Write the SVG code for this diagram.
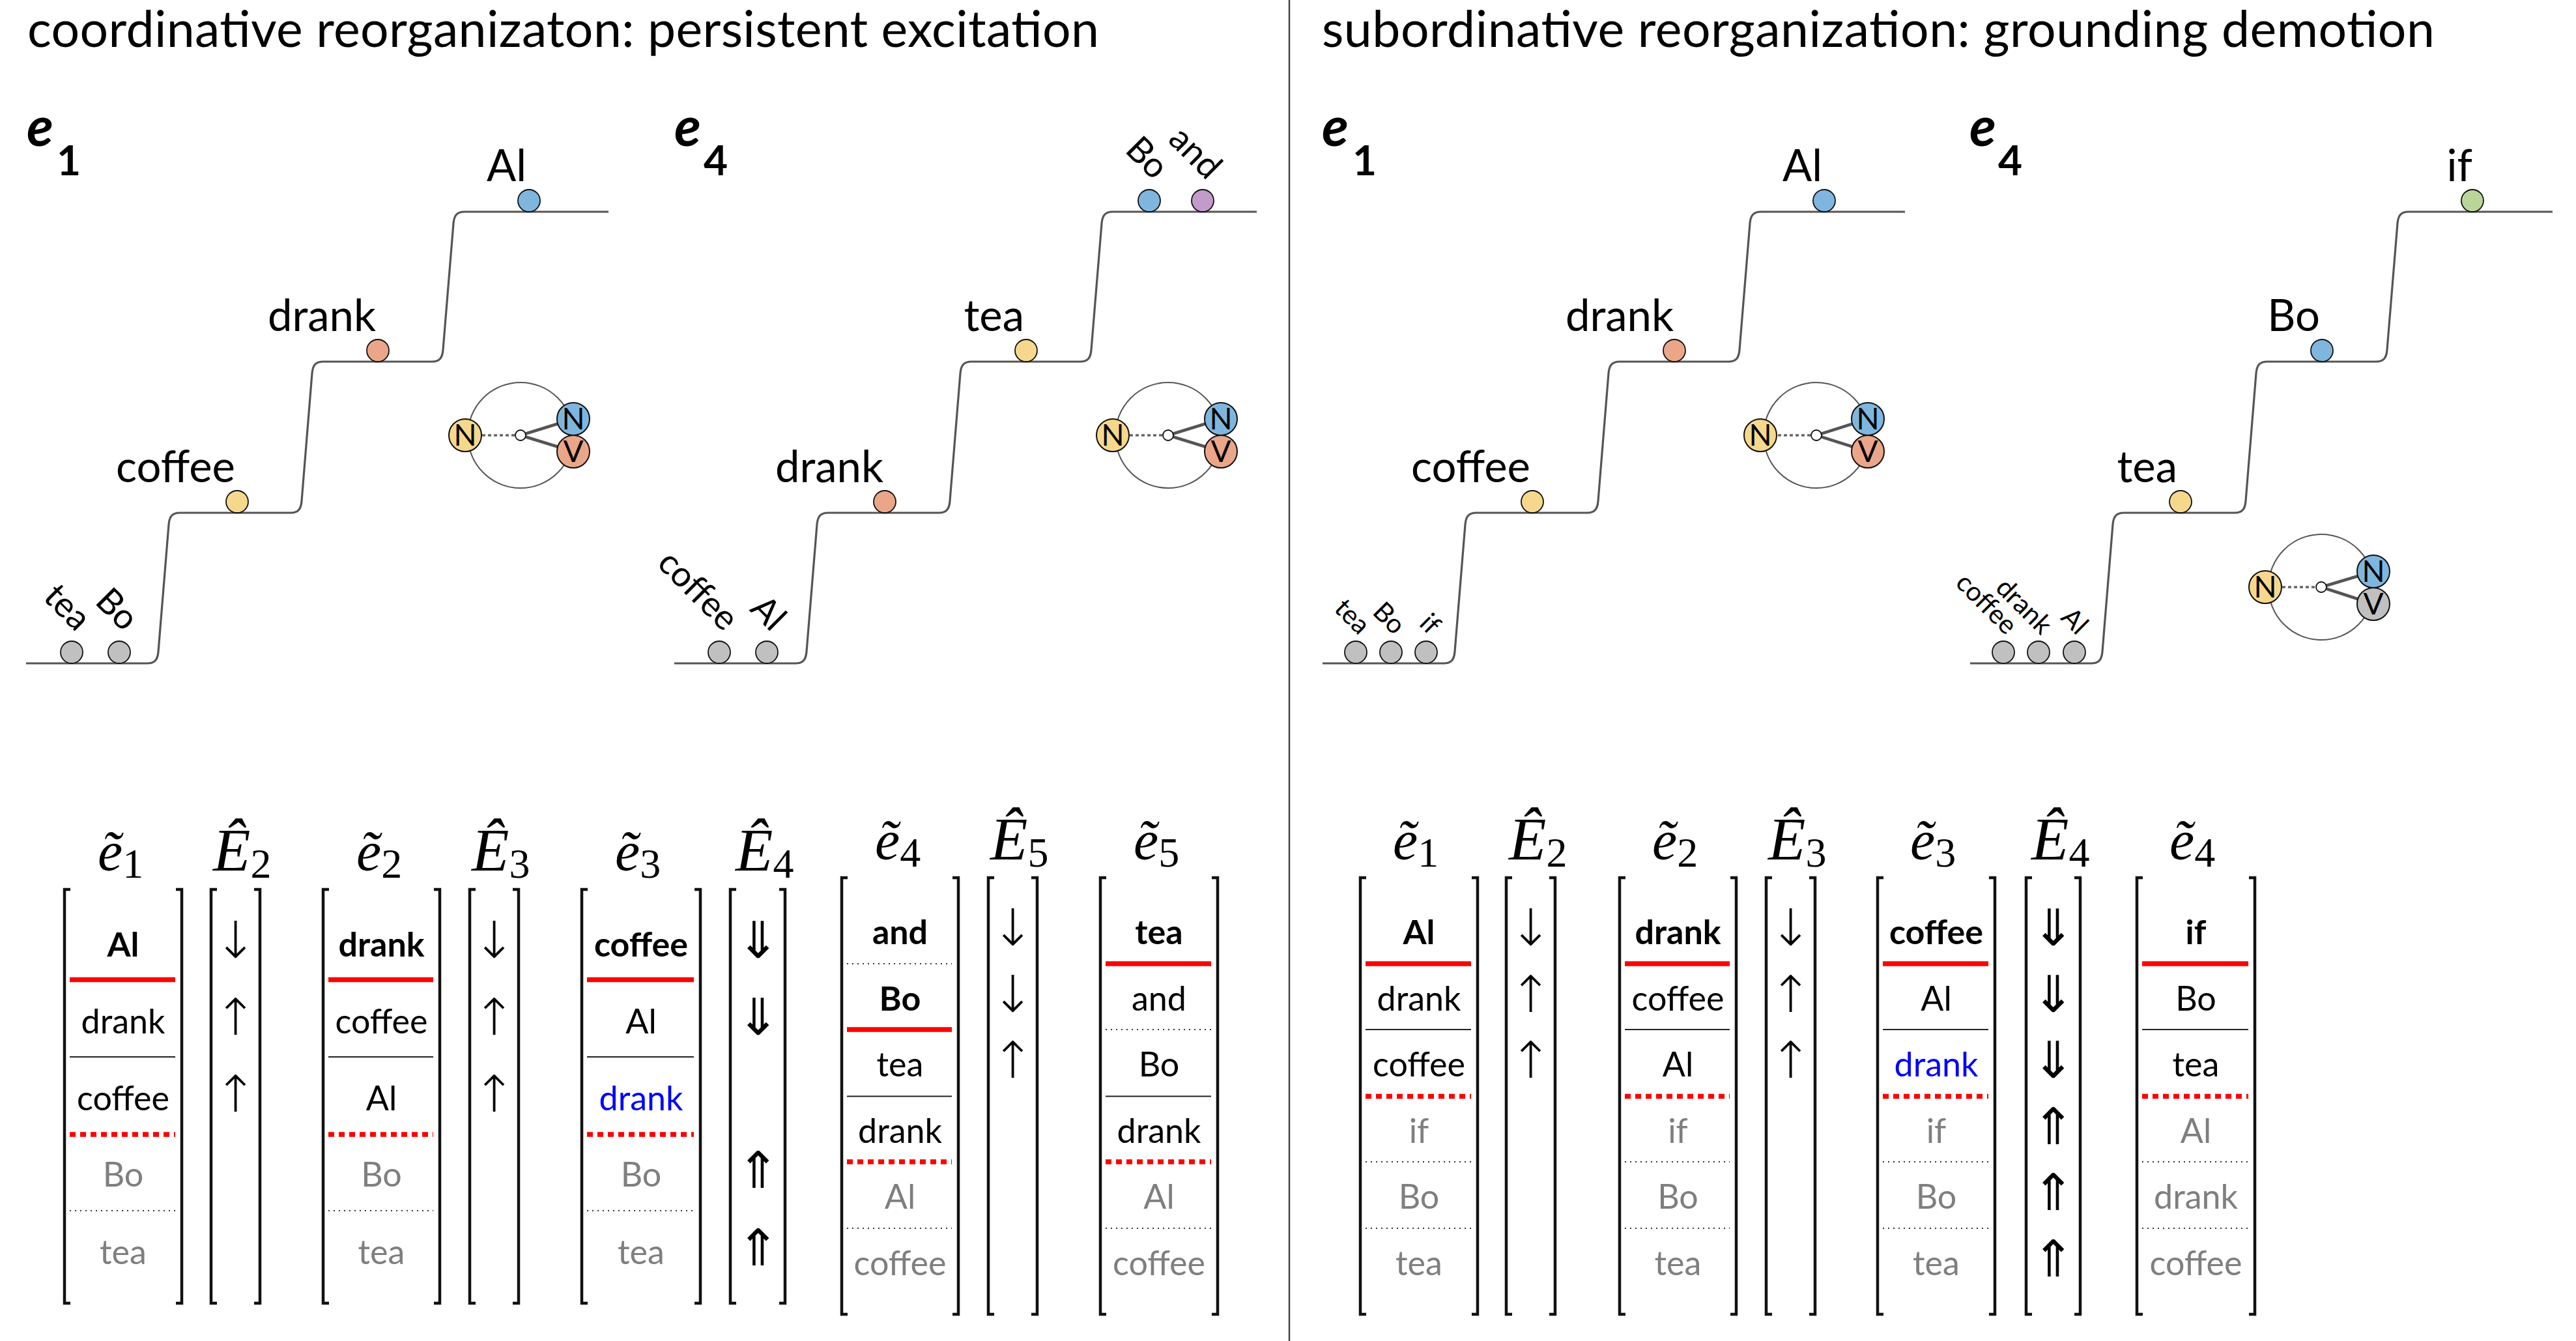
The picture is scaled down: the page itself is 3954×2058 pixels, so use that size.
<svg xmlns="http://www.w3.org/2000/svg" width="3954" height="2058" viewBox="0 0 3954 2058">
<style>
text{font-family:Lato,'Open Sans','Liberation Sans',sans-serif;fill:#000}
.title{font-size:77px}
.pe{font-size:84px;font-weight:bold;font-style:italic}
.ps{font-size:64px;font-weight:bold;font-style:normal}
.lbl{font-size:67px;text-anchor:end}
.rl{font-size:54px;text-anchor:end}
.rs{font-size:41px;text-anchor:end}
.nv{font-size:46px;text-anchor:middle}
.stair{fill:none;stroke:#555;stroke-width:3.2}
.ball{stroke:#111;stroke-width:1.8}
.gray{fill:#c0c0c0}.yel{fill:#f6d88d}.sal{fill:#eba689}.blu{fill:#7fb6de}.pur{fill:#c39bcb}.grn{fill:#b9d598}
.ring{fill:none;stroke:#555;stroke-width:2}
.dot{stroke:#666;stroke-width:3.5;stroke-dasharray:5 4}
.link{stroke:#555;stroke-width:4.5}
.hub{fill:#fff;stroke:#111;stroke-width:1.8}
.nd{stroke:#111;stroke-width:2}
.math{font-family:'Liberation Serif','DejaVu Serif',serif;font-style:italic}
.me{font-size:86px}
.mE{font-size:94px}
.sub{font-size:64px;font-style:normal}
.br{fill:none;stroke:#111;stroke-width:4.5}
.cell{font-size:52px;text-anchor:middle}
.b{font-weight:bold}
.g{fill:#7f7f7f}
.bl{fill:#0000ff}
.arr{font-family:'DejaVu Sans',sans-serif;font-weight:200;font-size:78px;text-anchor:middle}
.sr{stroke:#f00;stroke-width:7.5}
.srd{stroke:#f00;stroke-width:7.5;stroke-dasharray:9 7}
.sb{stroke:#222;stroke-width:2}
.sg{stroke:#333;stroke-width:2;stroke-dasharray:2 6}
.div{stroke:#444;stroke-width:2.5}
</style>
<defs>
<path id="stair" class="stair" d="M40,1018 H226 C238,1018 242,1012 243,1000 L259,805 C260,793 264,787 276,787 H446 C458,787 462,781 463,769 L479,573 C480,561 484,555 496,555 H663 C675,555 679,549 680,537 L696,343 C697,331 701,325 713,325 H934"/>
</defs>
<rect width="3954" height="2058" fill="#fff"/>

<g id="titles">
<text class="title" x="42" y="72" textLength="1645">coordinative reorganizaton: persistent excitation</text>
<text class="title" x="2029" y="72" textLength="1708">subordinative reorganization: grounding demotion</text>
</g>
<line id="divider" class="div" x1="1979" y1="0" x2="1979" y2="2058"/>

<!-- Left e1 panel -->
<g id="panel-left-e1">
<text class="pe" x="41" y="224">e</text><text class="ps" x="87" y="269">1</text>
<use href="#stair"/>
<circle class="ball gray" cx="110" cy="1001" r="17"/>
<circle class="ball gray" cx="183" cy="1001" r="17"/>
<circle class="ball yel" cx="364" cy="770" r="17"/>
<circle class="ball sal" cx="580" cy="538" r="17"/>
<circle class="ball blu" cx="812" cy="308" r="17"/>
<text class="lbl" x="361" y="740">coffee</text>
<text class="lbl" x="577" y="508">drank</text>
<text class="lbl" x="808" y="278">Al</text>
<text class="rl" x="117" y="971" transform="rotate(45 117 971)">tea</text>
<text class="rl" x="190" y="971" transform="rotate(45 190 971)">Bo</text>
<g id="schema-left-e1">
<circle class="ring" cx="799" cy="668" r="81"/>
<line class="dot" x1="740" y1="668" x2="791" y2="668"/>
<line class="link" x1="799" y1="668" x2="880" y2="643"/>
<line class="link" x1="799" y1="668" x2="880" y2="693"/>
<circle class="hub" cx="799" cy="668" r="8"/>
<circle class="nd yel" cx="714" cy="668" r="25"/>
<circle class="nd blu" cx="880" cy="643" r="25"/>
<circle class="nd sal" cx="880" cy="693" r="25"/>
<text class="nv" x="714" y="684">N</text>
<text class="nv" x="880" y="659">N</text>
<text class="nv" x="880" y="709">V</text>
</g>
</g>

<!-- Left e4 panel -->
<g id="panel-left-e4">
<text class="pe" x="1035" y="224">e</text><text class="ps" x="1080" y="269">4</text>
<use href="#stair" x="995"/>
<circle class="ball gray" cx="1104" cy="1001" r="17"/>
<circle class="ball gray" cx="1177" cy="1001" r="17"/>
<circle class="ball sal" cx="1358" cy="770" r="17"/>
<circle class="ball yel" cx="1575" cy="538" r="17"/>
<circle class="ball blu" cx="1764" cy="308" r="17"/>
<circle class="ball pur" cx="1846" cy="308" r="17"/>
<text class="lbl" x="1356" y="740">drank</text>
<text class="lbl" x="1572" y="508">tea</text>
<text class="rl" x="1111" y="971" transform="rotate(45 1111 971)">coffee</text>
<text class="rl" x="1184" y="971" transform="rotate(45 1184 971)">Al</text>
<text class="rl" x="1771" y="278" transform="rotate(45 1771 278)">Bo</text>
<text class="rl" x="1853" y="278" transform="rotate(45 1853 278)">and</text>
<g id="schema-left-e4">
<circle class="ring" cx="1793" cy="668" r="81"/>
<line class="dot" x1="1734" y1="668" x2="1785" y2="668"/>
<line class="link" x1="1793" y1="668" x2="1874" y2="643"/>
<line class="link" x1="1793" y1="668" x2="1874" y2="693"/>
<circle class="hub" cx="1793" cy="668" r="8"/>
<circle class="nd yel" cx="1708" cy="668" r="25"/>
<circle class="nd blu" cx="1874" cy="643" r="25"/>
<circle class="nd sal" cx="1874" cy="693" r="25"/>
<text class="nv" x="1708" y="684">N</text>
<text class="nv" x="1874" y="659">N</text>
<text class="nv" x="1874" y="709">V</text>
</g>
</g>

<!-- Right e1 panel -->
<g id="panel-right-e1">
<text class="pe" x="2029" y="224">e</text><text class="ps" x="2076" y="269">1</text>
<use href="#stair" x="1990"/>
<circle class="ball gray" cx="2081" cy="1001" r="17"/>
<circle class="ball gray" cx="2135" cy="1001" r="17"/>
<circle class="ball gray" cx="2189" cy="1001" r="17"/>
<circle class="ball yel" cx="2352" cy="770" r="17"/>
<circle class="ball sal" cx="2570" cy="538" r="17"/>
<circle class="ball blu" cx="2800" cy="308" r="17"/>
<text class="lbl" x="2349" y="740">coffee</text>
<text class="lbl" x="2569" y="508">drank</text>
<text class="lbl" x="2797" y="278">Al</text>
<text class="rs" x="2086" y="976" transform="rotate(45 2086 976)">tea</text>
<text class="rs" x="2140" y="976" transform="rotate(45 2140 976)">Bo</text>
<text class="rs" x="2194" y="976" transform="rotate(45 2194 976)">if</text>
<g id="schema-right-e1">
<circle class="ring" cx="2788" cy="668" r="81"/>
<line class="dot" x1="2729" y1="668" x2="2780" y2="668"/>
<line class="link" x1="2788" y1="668" x2="2867" y2="643"/>
<line class="link" x1="2788" y1="668" x2="2867" y2="693"/>
<circle class="hub" cx="2788" cy="668" r="8"/>
<circle class="nd yel" cx="2702" cy="668" r="25"/>
<circle class="nd blu" cx="2867" cy="643" r="25"/>
<circle class="nd sal" cx="2867" cy="693" r="25"/>
<text class="nv" x="2702" y="684">N</text>
<text class="nv" x="2867" y="659">N</text>
<text class="nv" x="2867" y="709">V</text>
</g>
</g>

<!-- Right e4 panel -->
<g id="panel-right-e4">
<text class="pe" x="3023" y="224">e</text><text class="ps" x="3067" y="269">4</text>
<use href="#stair" x="2984"/>
<circle class="ball gray" cx="3075" cy="1001" r="17"/>
<circle class="ball gray" cx="3129" cy="1001" r="17"/>
<circle class="ball gray" cx="3184" cy="1001" r="17"/>
<circle class="ball yel" cx="3347" cy="770" r="17"/>
<circle class="ball blu" cx="3564" cy="538" r="17"/>
<circle class="ball grn" cx="3795" cy="308" r="17"/>
<text class="lbl" x="3342" y="740">tea</text>
<text class="lbl" x="3561" y="508">Bo</text>
<text class="lbl" x="3795" y="278">if</text>
<text class="rs" x="3079" y="976" transform="rotate(45 3079 976)">coffee</text>
<text class="rs" x="3133" y="976" transform="rotate(45 3133 976)">drank</text>
<text class="rs" x="3188" y="976" transform="rotate(45 3188 976)">Al</text>
<g id="schema-right-e4">
<circle class="ring" cx="3563" cy="901" r="81"/>
<line class="dot" x1="3503" y1="901" x2="3555" y2="901"/>
<line class="link" x1="3563" y1="901" x2="3643" y2="877"/>
<line class="link" x1="3563" y1="901" x2="3643" y2="927"/>
<circle class="hub" cx="3563" cy="901" r="8"/>
<circle class="nd yel" cx="3477" cy="901" r="25"/>
<circle class="nd blu" cx="3643" cy="877" r="25"/>
<circle class="nd gray" cx="3643" cy="927" r="25"/>
<text class="nv" x="3477" y="917">N</text>
<text class="nv" x="3643" y="893">N</text>
<text class="nv" x="3643" y="943">V</text>
</g>
</g>

<!-- ===== Left tables (5 rows) ===== -->
<g id="tab-left-e1">
<text class="math me" x="150" y="1336">ẽ<tspan class="sub" dy="11">1</tspan></text>
<path class="br" d="M108,1365H99V2000H108M270,1365H279V2000H270"/>
<text class="cell b" x="189" y="1468">Al</text>
<text class="cell" x="189" y="1586">drank</text>
<text class="cell" x="189" y="1704">coffee</text>
<text class="cell g" x="189" y="1821">Bo</text>
<text class="cell g" x="189" y="1940">tea</text>
<line class="sr" x1="107" y1="1503.5" x2="269" y2="1503.5"/>
<line class="sb" x1="107" y1="1622" x2="269" y2="1622"/>
<line class="srd" x1="107" y1="1741" x2="269" y2="1741"/>
<line class="sg" x1="107" y1="1858" x2="269" y2="1858"/>
</g>
<g id="tab-left-E2">
<text class="math mE" x="327" y="1336">Ê<tspan class="sub" dy="11">2</tspan></text>
<path class="br" d="M333,1365H324V2000H333M390,1365H399V2000H390"/>
<text class="arr" x="361.5" y="1470">↓</text>
<text class="arr" x="361.5" y="1588">↑</text>
<text class="arr" x="361.5" y="1706">↑</text>
</g>
<g id="tab-left-e2">
<text class="math me" x="547" y="1336">ẽ<tspan class="sub" dy="11">2</tspan></text>
<path class="br" d="M505,1365H496V2000H505M666,1365H675V2000H666"/>
<text class="cell b" x="585.5" y="1468">drank</text>
<text class="cell" x="585.5" y="1586">coffee</text>
<text class="cell" x="585.5" y="1704">Al</text>
<text class="cell g" x="585.5" y="1821">Bo</text>
<text class="cell g" x="585.5" y="1940">tea</text>
<line class="sr" x1="504" y1="1503.5" x2="665" y2="1503.5"/>
<line class="sb" x1="504" y1="1622" x2="665" y2="1622"/>
<line class="srd" x1="504" y1="1741" x2="665" y2="1741"/>
<line class="sg" x1="504" y1="1858" x2="665" y2="1858"/>
</g>
<g id="tab-left-E3">
<text class="math mE" x="724" y="1336">Ê<tspan class="sub" dy="11">3</tspan></text>
<path class="br" d="M730,1365H721V2000H730M787,1365H796V2000H787"/>
<text class="arr" x="758.5" y="1470">↓</text>
<text class="arr" x="758.5" y="1588">↑</text>
<text class="arr" x="758.5" y="1706">↑</text>
</g>
<g id="tab-left-e3">
<text class="math me" x="944" y="1336">ẽ<tspan class="sub" dy="11">3</tspan></text>
<path class="br" d="M902,1365H893V2000H902M1066,1365H1075V2000H1066"/>
<text class="cell b" x="984" y="1468">coffee</text>
<text class="cell" x="984" y="1586">Al</text>
<text class="cell bl" x="984" y="1704">drank</text>
<text class="cell g" x="984" y="1821">Bo</text>
<text class="cell g" x="984" y="1940">tea</text>
<line class="sr" x1="901" y1="1503.5" x2="1065" y2="1503.5"/>
<line class="sb" x1="901" y1="1622" x2="1065" y2="1622"/>
<line class="srd" x1="901" y1="1741" x2="1065" y2="1741"/>
<line class="sg" x1="901" y1="1858" x2="1065" y2="1858"/>
</g>
<g id="tab-left-E4">
<text class="math mE" x="1129" y="1336">Ê<tspan class="sub" dy="11">4</tspan></text>
<path class="br" d="M1130,1365H1121V2000H1130M1196,1365H1205V2000H1196"/>
<text class="arr" x="1163" y="1470">⇓</text>
<text class="arr" x="1163" y="1588">⇓</text>
<text class="arr" x="1163" y="1823">⇑</text>
<text class="arr" x="1163" y="1942">⇑</text>
</g>
<!-- Left tables (6 rows) -->
<g id="tab-left-e4">
<text class="math me" x="1343" y="1319">ẽ<tspan class="sub" dy="11">4</tspan></text>
<path class="br" d="M1301,1347H1292V2017H1301M1462,1347H1471V2017H1462"/>
<text class="cell b" x="1381.5" y="1449">and</text>
<text class="cell b" x="1381.5" y="1550.5">Bo</text>
<text class="cell" x="1381.5" y="1652">tea</text>
<text class="cell" x="1381.5" y="1754">drank</text>
<text class="cell g" x="1381.5" y="1855">Al</text>
<text class="cell g" x="1381.5" y="1957">coffee</text>
<line class="sg" x1="1300" y1="1479" x2="1461" y2="1479"/>
<line class="sr" x1="1300" y1="1580" x2="1461" y2="1580"/>
<line class="sb" x1="1300" y1="1682.5" x2="1461" y2="1682.5"/>
<line class="srd" x1="1300" y1="1783" x2="1461" y2="1783"/>
<line class="sg" x1="1300" y1="1885" x2="1461" y2="1885"/>
</g>
<g id="tab-left-E5">
<text class="math mE" x="1520" y="1319">Ê<tspan class="sub" dy="11">5</tspan></text>
<path class="br" d="M1526,1347H1517V2017H1526M1583,1347H1592V2017H1583"/>
<text class="arr" x="1554.5" y="1451">↓</text>
<text class="arr" x="1554.5" y="1552.5">↓</text>
<text class="arr" x="1554.5" y="1654">↑</text>
</g>
<g id="tab-left-e5">
<text class="math me" x="1740" y="1319">ẽ<tspan class="sub" dy="11">5</tspan></text>
<path class="br" d="M1698,1347H1689V2017H1698M1860,1347H1869V2017H1860"/>
<text class="cell b" x="1779" y="1449">tea</text>
<text class="cell" x="1779" y="1550.5">and</text>
<text class="cell" x="1779" y="1652">Bo</text>
<text class="cell" x="1779" y="1754">drank</text>
<text class="cell g" x="1779" y="1855">Al</text>
<text class="cell g" x="1779" y="1957">coffee</text>
<line class="sr" x1="1697" y1="1479" x2="1859" y2="1479"/>
<line class="sg" x1="1697" y1="1580" x2="1859" y2="1580"/>
<line class="sb" x1="1697" y1="1682.5" x2="1859" y2="1682.5"/>
<line class="srd" x1="1697" y1="1783" x2="1859" y2="1783"/>
<line class="sg" x1="1697" y1="1885" x2="1859" y2="1885"/>
</g>

<!-- ===== Right tables (6 rows) ===== -->
<g id="tab-right-e1">
<text class="math me" x="2138" y="1319">ẽ<tspan class="sub" dy="11">1</tspan></text>
<path class="br" d="M2097,1347H2088V2017H2097M2259,1347H2268V2017H2259"/>
<text class="cell b" x="2178" y="1449">Al</text>
<text class="cell" x="2178" y="1550.5">drank</text>
<text class="cell" x="2178" y="1652">coffee</text>
<text class="cell g" x="2178" y="1754">if</text>
<text class="cell g" x="2178" y="1855">Bo</text>
<text class="cell g" x="2178" y="1957">tea</text>
<line class="sr" x1="2096" y1="1479" x2="2258" y2="1479"/>
<line class="sb" x1="2096" y1="1580" x2="2258" y2="1580"/>
<line class="srd" x1="2096" y1="1682.5" x2="2258" y2="1682.5"/>
<line class="sg" x1="2096" y1="1783" x2="2258" y2="1783"/>
<line class="sg" x1="2096" y1="1885" x2="2258" y2="1885"/>
</g>
<g id="tab-right-E2">
<text class="math mE" x="2316" y="1319">Ê<tspan class="sub" dy="11">2</tspan></text>
<path class="br" d="M2321,1347H2312V2017H2321M2378,1347H2387V2017H2378"/>
<text class="arr" x="2349.5" y="1451">↓</text>
<text class="arr" x="2349.5" y="1552.5">↑</text>
<text class="arr" x="2349.5" y="1654">↑</text>
</g>
<g id="tab-right-e2">
<text class="math me" x="2536" y="1319">ẽ<tspan class="sub" dy="11">2</tspan></text>
<path class="br" d="M2495,1347H2486V2017H2495M2656,1347H2665V2017H2656"/>
<text class="cell b" x="2575.5" y="1449">drank</text>
<text class="cell" x="2575.5" y="1550.5">coffee</text>
<text class="cell" x="2575.5" y="1652">Al</text>
<text class="cell g" x="2575.5" y="1754">if</text>
<text class="cell g" x="2575.5" y="1855">Bo</text>
<text class="cell g" x="2575.5" y="1957">tea</text>
<line class="sr" x1="2494" y1="1479" x2="2655" y2="1479"/>
<line class="sb" x1="2494" y1="1580" x2="2655" y2="1580"/>
<line class="srd" x1="2494" y1="1682.5" x2="2655" y2="1682.5"/>
<line class="sg" x1="2494" y1="1783" x2="2655" y2="1783"/>
<line class="sg" x1="2494" y1="1885" x2="2655" y2="1885"/>
</g>
<g id="tab-right-E3">
<text class="math mE" x="2714" y="1319">Ê<tspan class="sub" dy="11">3</tspan></text>
<path class="br" d="M2720,1347H2711V2017H2720M2777,1347H2786V2017H2777"/>
<text class="arr" x="2748.5" y="1451">↓</text>
<text class="arr" x="2748.5" y="1552.5">↑</text>
<text class="arr" x="2748.5" y="1654">↑</text>
</g>
<g id="tab-right-e3">
<text class="math me" x="2932" y="1319">ẽ<tspan class="sub" dy="11">3</tspan></text>
<path class="br" d="M2891,1347H2882V2017H2891M3053,1347H3062V2017H3053"/>
<text class="cell b" x="2972" y="1449">coffee</text>
<text class="cell" x="2972" y="1550.5">Al</text>
<text class="cell bl" x="2972" y="1652">drank</text>
<text class="cell g" x="2972" y="1754">if</text>
<text class="cell g" x="2972" y="1855">Bo</text>
<text class="cell g" x="2972" y="1957">tea</text>
<line class="sr" x1="2890" y1="1479" x2="3052" y2="1479"/>
<line class="sb" x1="2890" y1="1580" x2="3052" y2="1580"/>
<line class="srd" x1="2890" y1="1682.5" x2="3052" y2="1682.5"/>
<line class="sg" x1="2890" y1="1783" x2="3052" y2="1783"/>
<line class="sg" x1="2890" y1="1885" x2="3052" y2="1885"/>
</g>
<g id="tab-right-E4">
<text class="math mE" x="3118" y="1319">Ê<tspan class="sub" dy="11">4</tspan></text>
<path class="br" d="M3119,1347H3110V2017H3119M3184,1347H3193V2017H3184"/>
<text class="arr" x="3151.5" y="1451">⇓</text>
<text class="arr" x="3151.5" y="1552.5">⇓</text>
<text class="arr" x="3151.5" y="1654">⇓</text>
<text class="arr" x="3151.5" y="1756">⇑</text>
<text class="arr" x="3151.5" y="1857">⇑</text>
<text class="arr" x="3151.5" y="1959">⇑</text>
</g>
<g id="tab-right-e4">
<text class="math me" x="3330" y="1319">ẽ<tspan class="sub" dy="11">4</tspan></text>
<path class="br" d="M3289,1347H3280V2017H3289M3452,1347H3461V2017H3452"/>
<text class="cell b" x="3370.5" y="1449">if</text>
<text class="cell" x="3370.5" y="1550.5">Bo</text>
<text class="cell" x="3370.5" y="1652">tea</text>
<text class="cell g" x="3370.5" y="1754">Al</text>
<text class="cell g" x="3370.5" y="1855">drank</text>
<text class="cell g" x="3370.5" y="1957">coffee</text>
<line class="sr" x1="3288" y1="1479" x2="3451" y2="1479"/>
<line class="sb" x1="3288" y1="1580" x2="3451" y2="1580"/>
<line class="srd" x1="3288" y1="1682.5" x2="3451" y2="1682.5"/>
<line class="sg" x1="3288" y1="1783" x2="3451" y2="1783"/>
<line class="sg" x1="3288" y1="1885" x2="3451" y2="1885"/>
</g>
</svg>
